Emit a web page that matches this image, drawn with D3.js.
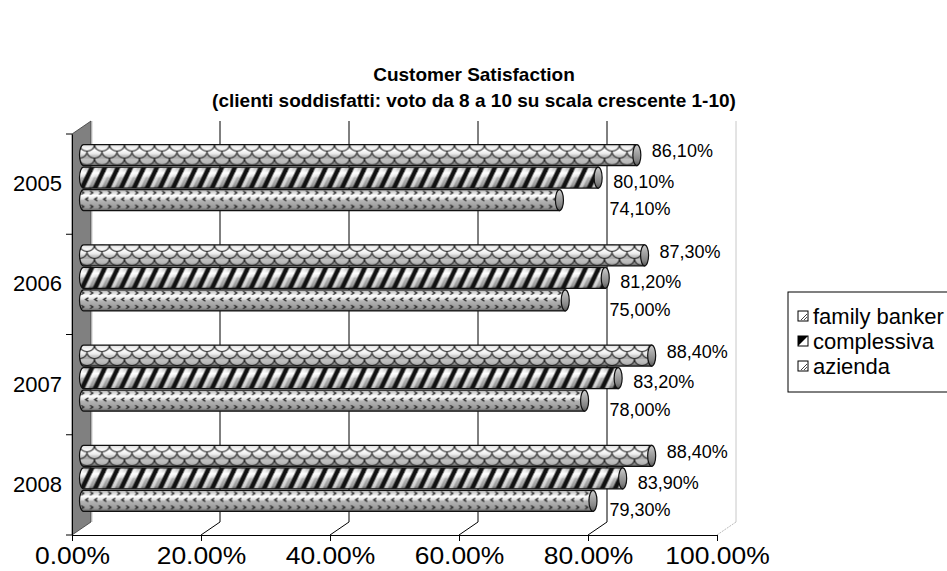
<!DOCTYPE html>
<html>
<head>
<meta charset="utf-8">
<script src="https://cdn.jsdelivr.net/npm/d3@7"></script>
<style>
  body { margin: 0; background: #fff; }
  text { font-family: "Liberation Sans", Arial, sans-serif; fill: #000; }
</style>
</head>
<body>
<svg id="chart" width="947" height="571"></svg>
<script>
var years = ["2005", "2006", "2007", "2008"];
var seriesNames = ["family banker", "complessiva", "azienda"];
var familyBanker = [86.1, 87.3, 88.4, 88.4];
var complessiva = [80.1, 81.2, 83.2, 83.9];
var azienda = [74.1, 75.0, 78.0, 79.3];
var xTicks = [0, 20, 40, 60, 80, 100];
var titleLines = ["Customer Satisfaction", "(clienti soddisfatti: voto da 8 a 10 su scala crescente 1-10)"];

var values = [familyBanker, complessiva, azienda];

var svg = d3.select("#chart");

// 3d depth of the plot box
var depthX = 19, depthY = -13;
var x = d3.scaleLinear().domain([0, 100]).range([72, 717]);
var y = d3.scaleBand().domain(years).range([134, 535]);
var ySeries = d3.scaleBand().domain(seriesNames)
    .range([0, y.bandwidth()])
    .paddingInner(0.07).paddingOuter(0.76);
var bh = ySeries.bandwidth();
var floorY = y.range()[1];
var topY = y.range()[0] + depthY;

var defs = svg.append("defs");

function gradient(id, stops) {
    var g = defs.append("linearGradient").attr("id", id)
        .attr("x1", 0).attr("y1", 0).attr("x2", 0).attr("y2", 1);
    stops.forEach(function (s) {
        g.append("stop").attr("offset", s[0]).attr("stop-color", s[1]);
    });
}
gradient("cyl", [[0, "#a8a8a8"], [0.12, "#d6d6d6"], [0.28, "#ffffff"], [0.44, "#dedede"],
                 [0.52, "#b4b4b4"], [0.85, "#9a9a9a"], [1, "#606060"]]);
gradient("capg", [[0, "#d0d0d0"], [0.35, "#a8a8a8"], [0.75, "#848484"], [1, "#565656"]]);

// fish scale pattern
var p0 = defs.append("pattern").attr("id", "pat0")
    .attr("patternUnits", "userSpaceOnUse").attr("width", 15).attr("height", bh);
[0, 7, 14].forEach(function (ry, i) {
    var off = (i % 2) ? 7.5 : 0;
    [-15, 0, 15].forEach(function (o) {
        p0.append("path")
            .attr("d", "M" + (o + off) + "," + ry + " A7.5,6.5 0 0 0 " + (o + off + 15) + "," + ry)
            .attr("fill", i == 0 ? "rgba(255,255,255,0.6)" : "rgba(255,255,255,0.3)")
            .attr("stroke", "#1a1a1a").attr("stroke-width", 1);
    });
});

// diagonal stripes
var p1 = defs.append("pattern").attr("id", "pat1")
    .attr("patternUnits", "userSpaceOnUse").attr("width", 13).attr("height", bh);
[-13, 0, 13].forEach(function (o) {
    p1.append("polygon")
        .attr("points", [[o + 5, bh], [o + 9, bh], [o + 19, 0], [o + 15, 0]].join(" "))
        .attr("fill", "rgba(255,255,255,0.55)");
    p1.append("polygon")
        .attr("points", [[o, bh], [o + 5, bh], [o + 15, 0], [o + 10, 0]].join(" "))
        .attr("fill", "#111");
});

// small arrow marks
var p2 = defs.append("pattern").attr("id", "pat2")
    .attr("patternUnits", "userSpaceOnUse").attr("width", 9).attr("height", bh);
[[3, 3, 1], [7.5, bh / 2 - 1, -1], [3, bh - 4, 1]].forEach(function (m) {
    var cx = m[0], cy = m[1], dir = m[2];
    p2.append("path")
        .attr("d", "M" + (cx - dir * 1.4) + "," + (cy - 1.7) + " L" + (cx + dir * 1.4) + "," + cy +
                   " L" + (cx - dir * 1.4) + "," + (cy + 1.7))
        .attr("fill", "none").attr("stroke", "#1a1a1a").attr("stroke-width", 1.1);
});

// left wall
svg.append("polygon")
    .attr("points", [[x(0), y.range()[0]], [x(0) + depthX, topY],
                     [x(0) + depthX, floorY + depthY], [x(0), floorY]].join(" "))
    .attr("fill", "#808080").attr("stroke", "#3a3a3a").attr("stroke-width", 0.8);
svg.append("line")
    .attr("x1", x(0) + depthX + 1.5).attr("x2", x(0) + depthX + 1.5)
    .attr("y1", topY).attr("y2", floorY + depthY)
    .attr("stroke", "#e4e4e4").attr("stroke-width", 1);

// back gridlines and floor lines
xTicks.filter(function (t) { return t > 0; }).forEach(function (t) {
    var last = t == 100;
    svg.append("line")
        .attr("x1", x(t) + depthX).attr("x2", x(t) + depthX)
        .attr("y1", topY).attr("y2", floorY + depthY)
        .attr("stroke", last ? "#c8c8c8" : "#000").attr("stroke-width", 1);
    svg.append("line")
        .attr("x1", x(t)).attr("y1", floorY)
        .attr("x2", x(t) + depthX).attr("y2", floorY + depthY)
        .attr("stroke", last ? "#bbb" : "#000").attr("stroke-width", 1)
        .attr("stroke-dasharray", last ? "2,1" : null);
});

// x axis
var xAxis = svg.append("g")
    .attr("transform", "translate(0," + floorY + ")")
    .call(d3.axisBottom(x).tickValues(xTicks).tickSizeInner(6).tickSizeOuter(0).tickPadding(7)
        .tickFormat(function (d) { return d3.format(".2f")(d) + "%"; }));
xAxis.selectAll("text").style("font-size", "23px").attr("dy", "0.71em")
    .attr("transform", "scale(1.15,1)");
xAxis.selectAll("line, path").attr("stroke", "#000");

// y axis
var yAxis = svg.append("g")
    .attr("transform", "translate(" + x(0) + ",0)")
    .call(d3.axisLeft(y).tickSize(0).tickPadding(10));
yAxis.selectAll("text").style("font-size", "22px");
yAxis.select(".domain").attr("stroke", "#000");
yAxis.selectAll(".bound")
    .data(years.map(function (d) { return y(d); }).concat([floorY]))
    .enter().append("line").attr("class", "bound")
    .attr("x1", -6).attr("x2", 0)
    .attr("y1", function (d) { return d; }).attr("y2", function (d) { return d; })
    .attr("stroke", "#000");

// bars
var bars = [];
seriesNames.forEach(function (s, si) {
    years.forEach(function (yr, yi) {
        bars.push({ series: s, si: si, year: yr, value: values[si][yi] });
    });
});

var r = 4;
var barG = svg.selectAll(".bar").data(bars).enter().append("g")
    .attr("class", "bar")
    .attr("transform", function (d) {
        return "translate(" + (x(0) + depthX / 2 - 2) + "," + (y(d.year) + ySeries(d.series) + depthY / 2) + ")";
    });

function body(d) {
    var len = x(d.value) - x(0) + 2;
    return "M" + r + ",0 H" + len + " V" + bh + " H" + r + " A" + r + "," + (bh / 2) + " 0 0 1 " + r + ",0 Z";
}
barG.append("path").attr("d", body).attr("fill", "url(#cyl)");
barG.append("path").attr("d", body).attr("fill", function (d) { return "url(#pat" + d.si + ")"; });
barG.append("path").attr("d", body).attr("fill", "none").attr("stroke", "#111").attr("stroke-width", 1.2);
barG.append("ellipse")
    .attr("cx", function (d) { return x(d.value) - x(0) + 2; })
    .attr("cy", bh / 2).attr("rx", r).attr("ry", bh / 2)
    .attr("fill", "url(#capg)").attr("stroke", "#111").attr("stroke-width", 1.2);

// value labels
var labelDy = [-4, 4, 9];
svg.selectAll(".lbl").data(bars).enter().append("text")
    .attr("class", "lbl")
    .attr("x", function (d) {
        return Math.max(x(d.value) + depthX / 2 + 15, x(80) + depthX / 2 + 12);
    })
    .attr("y", function (d) {
        return y(d.year) + ySeries(d.series) + depthY / 2 + bh / 2 + labelDy[d.si];
    })
    .attr("dy", "0.35em")
    .style("font-size", "18px")
    .text(function (d) { return d3.format(".2f")(d.value).replace(".", ",") + "%"; });

// title
svg.selectAll(".title").data(titleLines).enter().append("text")
    .attr("class", "title")
    .attr("x", 474).attr("y", function (d, i) { return 81 + i * 26; })
    .attr("text-anchor", "middle")
    .style("font-size", "19px").style("font-weight", "bold")
    .text(function (d) { return d; });

// legend
var legend = svg.append("g").attr("transform", "translate(788,292)");
legend.append("rect").attr("width", 200).attr("height", 100)
    .attr("fill", "#fff").attr("stroke", "#000");
var item = legend.selectAll(".item").data(seriesNames).enter().append("g")
    .attr("class", "item")
    .attr("transform", function (d, i) { return "translate(10," + (24 + i * 25) + ")"; });
item.append("rect").attr("x", 0).attr("y", -5).attr("width", 10).attr("height", 10)
    .attr("fill", "#fff").attr("stroke", "#000");
item.filter(function (d, i) { return i == 1; }).append("polygon")
    .attr("points", "0,5 0,-5 10,-5").attr("fill", "#000");
item.filter(function (d, i) { return i != 1; }).append("path")
    .attr("d", "M3,4 L9,-2 M6,4 L9,1").attr("stroke", "#444").attr("fill", "none");
item.append("text").attr("x", 15).attr("dy", "0.35em")
    .style("font-size", "22px")
    .text(function (d) { return d; });
</script>
</body>
</html>
